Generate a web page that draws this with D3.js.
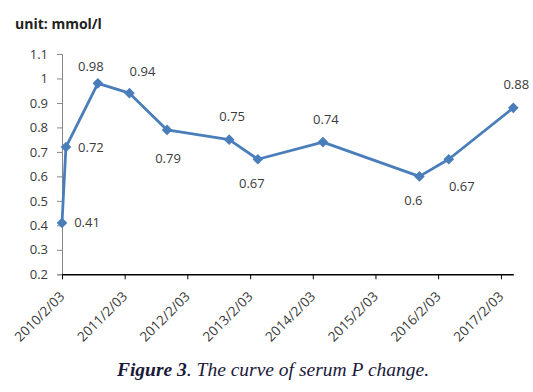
<!DOCTYPE html>
<html>
<head>
<meta charset="utf-8">
<script src="https://cdn.jsdelivr.net/npm/d3@7"></script>
<style>
  html, body { margin: 0; padding: 0; background: #fff; }
  svg { display: block; }
</style>
</head>
<body>
<svg id="chart" width="533" height="392"></svg>
<script>
// ---- data ----
const dates = ["2010-02-03","2010-02-26","2010-08-31","2011-03-03","2011-10-08","2012-10-04",
               "2013-03-20","2014-04-03","2015-10-17","2016-04-05","2017-04-16"];
const values = [0.41, 0.72, 0.98, 0.94, 0.79, 0.75, 0.67, 0.74, 0.60, 0.67, 0.88];
const labelPlacement = ["right","right","aboveLeft","aboveRight","below","above",
                        "belowLeft","above","belowLeft","belowRight","above"];
const xTickDates = ["2010-02-03","2011-02-03","2012-02-03","2013-02-03","2014-02-03",
                    "2015-02-03","2016-02-03","2017-02-03"];
const xTickLabels = ["2010/2/03","2011/2/03","2012/2/03","2013/2/03","2014/2/03",
                     "2015/2/03","2016/2/03","2017/2/03"];
const yTicks = [0.2,0.3,0.4,0.5,0.6,0.7,0.8,0.9,1,1.1];
const unitLabel = "unit: mmol/l";

// ---- chart ----
(function () {
const parse = d3.utcParse("%Y-%m-%d");
const pts = dates.map((d, i) => ({ date: parse(d), value: values[i], place: labelPlacement[i] }));

const svg = d3.select("#chart");
const mLeft = 62, mRight = 513.3, mTop = 54, mBottom = 274.3;

const x = d3.scaleUtc().domain(d3.extent(pts, d => d.date)).range([mLeft, mRight]);
const y = d3.scaleLinear().domain([0.2, 1.1]).range([mBottom, mTop]);

const font = "'Open Sans', 'Liberation Sans', sans-serif";
const textColor = "#3a3a3a";

// unit label
svg.append("text").attr("x", 15).attr("y", 29)
  .attr("font-family", font).attr("font-weight", "bold").attr("font-size", 14)
  .attr("fill", "#222").text(unitLabel);

// y axis
const yAxis = svg.append("g").attr("transform", `translate(${mLeft},0)`)
  .call(d3.axisLeft(y).tickValues(yTicks).tickSize(5).tickPadding(9)
        .tickFormat(d => d3.format("")(+d.toFixed(1))));
yAxis.select(".domain").attr("stroke", "#868686").attr("stroke-width", 1);
yAxis.selectAll(".tick line").attr("stroke", "#868686");
yAxis.selectAll(".tick text").attr("font-family", font).attr("font-size", 13).attr("fill", textColor);

// x axis
const xAxis = svg.append("g").attr("transform", `translate(0,${mBottom})`)
  .call(d3.axisBottom(x).tickValues(xTickDates.map(parse)).tickSize(5).tickSizeOuter(0)
        .tickFormat((d, i) => xTickLabels[i]));
xAxis.select(".domain").attr("stroke", "#000").attr("stroke-width", 1.5);
xAxis.selectAll(".tick line").attr("stroke", "#000");
xAxis.selectAll(".tick text")
  .attr("font-family", font).attr("font-size", 13.5).attr("fill", textColor)
  .attr("text-anchor", "end").attr("x", 0).attr("y", 0).attr("dy", 0)
  .attr("transform", "translate(3,23) rotate(-45)");

// line
const color = "#4a7ebb";
svg.append("path").datum(pts)
  .attr("fill", "none").attr("stroke", color).attr("stroke-width", 2.8)
  .attr("stroke-linejoin", "round")
  .attr("d", d3.line().x(d => x(d.date)).y(d => y(d.value)));

// markers
svg.append("g").selectAll("path").data(pts).join("path")
  .attr("transform", d => `translate(${x(d.date)},${y(d.value)})`)
  .attr("d", d3.symbol().type(d3.symbolDiamond2).size(72))
  .attr("fill", color);

// data labels
const offsets = {
  right: [25, 0], above: [3, -23], aboveLeft: [-7, -17], aboveRight: [13, -22],
  below: [1, 29], belowLeft: [-6, 24], belowRight: [13, 27]
};
svg.append("g").selectAll("text").data(pts).join("text")
  .attr("x", d => x(d.date) + offsets[d.place][0])
  .attr("y", d => y(d.value) + offsets[d.place][1])
  .attr("dy", "0.35em").attr("text-anchor", "middle")
  .attr("font-family", font).attr("font-size", 13).attr("fill", textColor)
  .text(d => d3.format("")(d.value));

// caption
const cap = svg.append("text").attr("x", 273).attr("y", 376).attr("text-anchor", "middle")
  .attr("font-family", "'Liberation Serif', 'Times New Roman', serif").attr("font-size", 19.5)
  .attr("font-style", "italic").attr("fill", "#1a1a3a");
cap.append("tspan").attr("font-weight", "bold").text("Figure 3");
cap.append("tspan").text(". The curve of serum P change.");
})();
</script>
</body>
</html>
